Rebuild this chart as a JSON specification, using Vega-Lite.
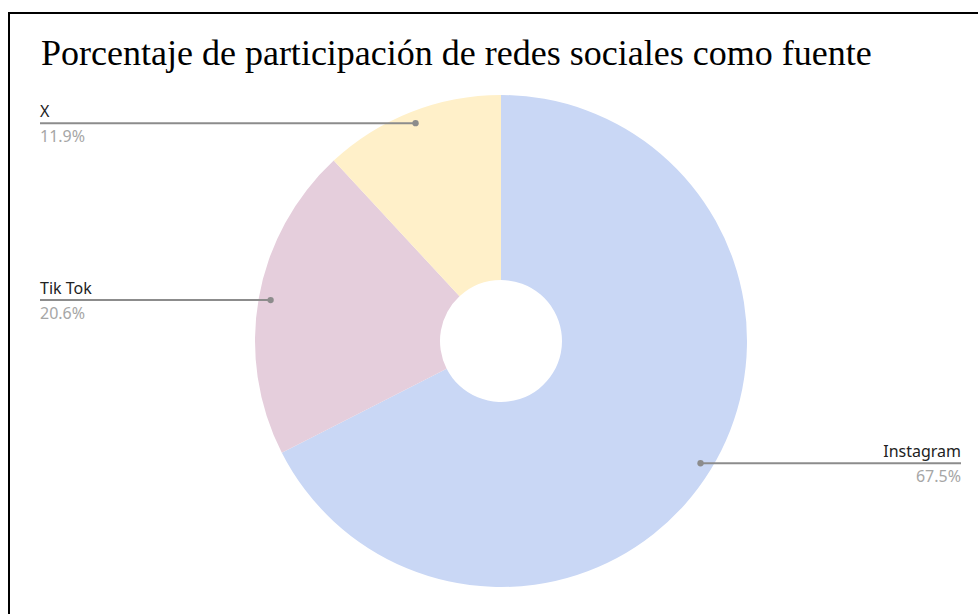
{
  "$schema": "https://vega.github.io/schema/vega-lite/v6.json",
  "width": 984,
  "height": 656,
  "autosize": {"type": "none"},
  "padding": {"left": 9, "top": 13, "right": 0, "bottom": 0},
  "background": "white",
  "config": {"view": {"stroke": "#000000", "strokeWidth": 2}},
  "title": {
    "text": "Porcentaje de participación de redes sociales como fuente",
    "anchor": "start",
    "frame": "group",
    "font": "Liberation Serif",
    "fontSize": 36,
    "fontWeight": "normal",
    "color": "#000000",
    "baseline": "alphabetic",
    "offset": 0,
    "dx": 32,
    "dy": 88
  },
  "data": {
    "values": [
      {"red": "Instagram", "valor": 0.675, "orden": 1},
      {"red": "Tik Tok", "valor": 0.206, "orden": 2},
      {"red": "X", "valor": 0.119, "orden": 3}
    ]
  },
  "transform": [
    {"joinaggregate": [{"op": "sum", "field": "valor", "as": "total"}]},
    {"window": [{"op": "sum", "field": "valor", "as": "acum"}], "sort": [{"field": "orden"}], "frame": [null, 0]},
    {"calculate": "2*PI*(datum.acum - datum.valor/2)/datum.total", "as": "ang"},
    {"calculate": "width/2 + 234*sin(datum.ang)", "as": "px"},
    {"calculate": "height/2 - 234*cos(datum.ang)", "as": "py"},
    {"calculate": "datum.px < width/2 ? 31 : 952", "as": "ex"},
    {"calculate": "datum.px < width/2 ? 'izq' : 'der'", "as": "lado"}
  ],
  "layer": [
    {
      "mark": {"type": "arc", "outerRadius": 246, "innerRadius": 61},
      "encoding": {
        "theta": {"field": "valor", "type": "quantitative", "stack": true},
        "order": {"field": "orden", "type": "quantitative"},
        "color": {
          "field": "red",
          "type": "nominal",
          "scale": {"domain": ["Instagram", "Tik Tok", "X"], "range": ["#c9d7f5", "#e5cedc", "#fff0c9"]},
          "legend": null
        }
      }
    },
    {
      "mark": {"type": "rule", "color": "#8c8c8c", "strokeWidth": 2},
      "encoding": {
        "x": {"field": "px", "type": "quantitative", "scale": null},
        "x2": {"field": "ex"},
        "y": {"field": "py", "type": "quantitative", "scale": null}
      }
    },
    {
      "mark": {"type": "point", "filled": true, "color": "#8c8c8c", "size": 40, "opacity": 1},
      "encoding": {
        "x": {"field": "px", "type": "quantitative", "scale": null},
        "y": {"field": "py", "type": "quantitative", "scale": null}
      }
    },
    {
      "transform": [{"filter": "datum.lado == 'izq'"}],
      "mark": {"type": "text", "align": "left", "baseline": "alphabetic", "dy": -6, "font": "Noto Sans", "fontSize": 16, "color": "#222222"},
      "encoding": {
        "x": {"field": "ex", "type": "quantitative", "scale": null},
        "y": {"field": "py", "type": "quantitative", "scale": null},
        "text": {"field": "red", "type": "nominal"}
      }
    },
    {
      "transform": [{"filter": "datum.lado == 'izq'"}],
      "mark": {"type": "text", "align": "left", "baseline": "alphabetic", "dy": 19, "font": "Noto Sans", "fontSize": 16, "color": "#a6a6a6"},
      "encoding": {
        "x": {"field": "ex", "type": "quantitative", "scale": null},
        "y": {"field": "py", "type": "quantitative", "scale": null},
        "text": {"field": "valor", "type": "quantitative", "format": ".1%"}
      }
    },
    {
      "transform": [{"filter": "datum.lado == 'der'"}],
      "mark": {"type": "text", "align": "right", "baseline": "alphabetic", "dy": -6, "font": "Noto Sans", "fontSize": 16, "color": "#222222"},
      "encoding": {
        "x": {"field": "ex", "type": "quantitative", "scale": null},
        "y": {"field": "py", "type": "quantitative", "scale": null},
        "text": {"field": "red", "type": "nominal"}
      }
    },
    {
      "transform": [{"filter": "datum.lado == 'der'"}],
      "mark": {"type": "text", "align": "right", "baseline": "alphabetic", "dy": 19, "font": "Noto Sans", "fontSize": 16, "color": "#a6a6a6"},
      "encoding": {
        "x": {"field": "ex", "type": "quantitative", "scale": null},
        "y": {"field": "py", "type": "quantitative", "scale": null},
        "text": {"field": "valor", "type": "quantitative", "format": ".1%"}
      }
    }
  ]
}
